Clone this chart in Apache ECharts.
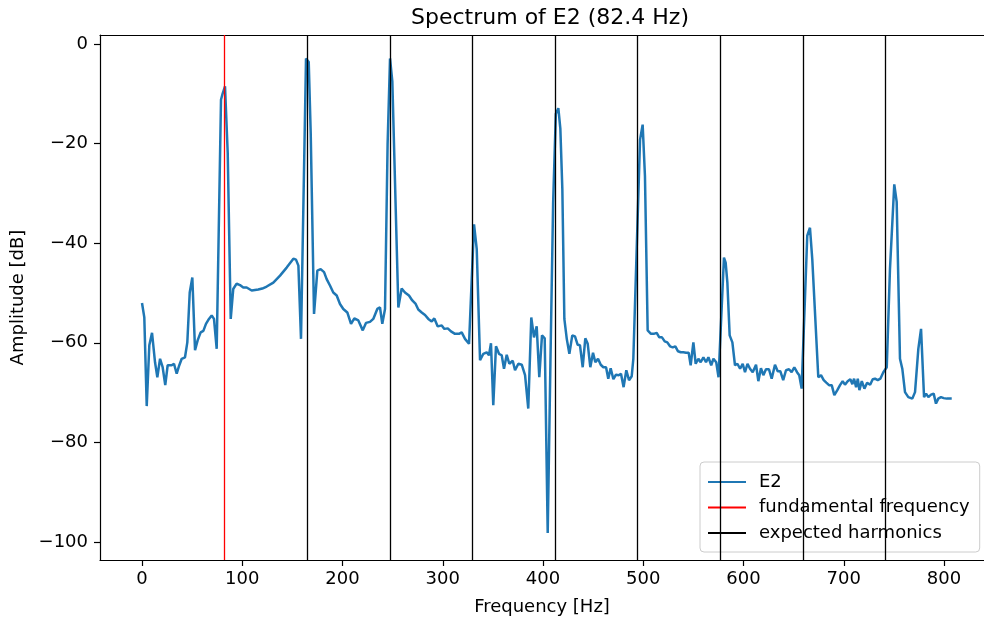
<!DOCTYPE html>
<html>
<head>
<meta charset="utf-8">
<script src="https://cdn.jsdelivr.net/npm/echarts@6/dist/echarts.min.js"></script>
<style>
html,body{margin:0;padding:0;background:#fff;}
#chart{width:984px;height:621px;}
</style>
</head>
<body>
<div id="chart"></div>
<script>
// ---- data ----
const freqs = [
0,2.3,4.7,7.3,10,13,15.3,18,20.6,23.2,25.6,29.6,31.9,34.6,37.2,39.6,42.9,45.2,47.6,50.2,
52.9,55.5,58.5,61.2,63.8,66.8,69.5,71.8,74.5,78.8,80.5,82.8,85.5,88.5,91,94.4,97.7,101,104.4,109.4,
116,120,124.4,131,137.7,144.3,151,153.6,156,158.6,163.6,166.3,168.3,171.6,174.9,178.2,181.6,184.2,187.5,190.8,
194.2,197.5,200.8,204.8,208.5,211.8,215.8,220.2,223.4,227.4,230.7,234.7,237.4,239.7,242.4,245,247.4,249.7,255.7,259,
262.3,266.3,269.6,273,275.6,279,282.3,285.6,289,291.6,295,299,301.6,305,308.2,312.2,316.2,318.9,322.2,326.2,
331.2,333.9,337.2,340.5,343.8,346.1,348.1,350.4,353.1,356.1,358.8,361.1,363.8,366.4,369.8,372.1,375.4,378.8,382.1,385.3,
388.3,391,393.7,396.3,399,401.7,404.7,407.4,410.1,412.8,415.3,417.3,419.3,421.3,423.7,426.3,429.2,431.9,434.6,436.9,
439.6,442.2,444.6,447.2,449.9,452.2,454.9,457.6,460.2,462.9,465.1,467.5,470.2,472.8,475.5,477.8,480.4,483.1,485.8,488.5,
490.1,496.8,499.4,501.7,504.4,507.7,510.4,513.4,516,518.7,521.4,524,526.7,529.4,532,534.7,537.4,540,542.7,545.3,
547.3,550,552.3,555,557.3,560,562.6,565,567.8,570,572.8,575.1,580.5,582.2,583.9,586.2,588.9,591.5,593.9,596.6,
599.2,601.5,604,606.5,609.2,612.5,614.8,617.4,619.8,622.4,625.4,628.1,631.4,634.1,636.7,639.6,642.4,645.4,648,650.7,
653.4,655.6,658,663.6,666.3,668.6,674.6,677.3,680,682.6,685.3,688,690.6,693.6,696.3,698.9,701.2,703.9,706.6,708.6,
710.3,712.3,714,715.6,718,720.6,723.3,726.3,728.9,731.2,733.9,736.5,739.5,742.9,746.1,750.4,752.8,756.1,758.4,761.1,
764.4,768.4,771.1,774.4,777.1,780.1,782.1,784.4,787.1,789.7,792,794.3,797,799.7,802.7,807.7
];
const amps = [
-52,-54.9,-72.7,-60.5,-58,-63.9,-66.9,-63.2,-64.9,-68.5,-64.5,-64.5,-64.2,-66.2,-64.5,-63.2,-62.9,-59.9,-49.9,-46.9,
-61.5,-59.5,-57.9,-57.6,-56.2,-55.2,-54.5,-55.2,-61.2,-11.2,-9.9,-8.5,-21.9,-55.2,-49.2,-48.1,-48.4,-48.9,-48.9,-49.5,
-49.3,-49.1,-48.7,-47.9,-46.5,-44.9,-43.1,-43.3,-44.5,-59.2,-2.9,-3.6,-18,-54.2,-45.5,-45.2,-45.8,-47.2,-48.5,-49.9,
-50.5,-52.2,-53.2,-53.9,-56.2,-55.1,-55.5,-57.5,-56,-55.8,-55.2,-53.2,-52.9,-56.2,-53.2,-20,-2.9,-7.5,-52.9,-49.1,
-49.9,-50.5,-51.5,-52.2,-53.3,-53.9,-54.4,-55.2,-55.7,-55.1,-56.7,-56.5,-57.2,-57.1,-57.7,-58.2,-58.2,-57.9,-59.2,-60.2,
-36.2,-41.2,-63.5,-62.2,-61.9,-62.5,-60.1,-72.5,-60.7,-62.2,-62.5,-65.2,-62.4,-64.2,-63.6,-65.5,-64.2,-64.4,-66.5,-73.2,
-54.9,-58.9,-56.7,-66.9,-58.5,-59.1,-98.2,-64,-32,-14,-12.9,-17,-29.2,-55.2,-59.2,-62.2,-58.5,-58.7,-60.4,-60.5,
-64.9,-59.1,-60.2,-64.9,-62,-63.9,-63.2,-64.4,-64.9,-64.9,-67.2,-65.1,-67.3,-66.4,-66.5,-66.2,-68.9,-65.5,-67.5,-66.7,
-63.2,-19.2,-16.2,-26.5,-57.5,-58.2,-58.2,-58,-58.9,-58.9,-59.7,-59.9,-60.7,-60.9,-60.7,-61.7,-61.9,-61.9,-62,-62,
-64.5,-59.9,-64.2,-63.2,-63.9,-62.9,-63.9,-62.9,-64.5,-63.2,-63.9,-66.9,-42.9,-43.9,-47.9,-58.5,-59.9,-64.5,-64.2,-65.2,
-64.2,-65.9,-64.2,-65.2,-65.9,-64.4,-67.7,-65.1,-66.5,-65.3,-65.3,-67.2,-64.4,-65.7,-65.7,-67.5,-65.5,-65.3,-65.9,-64.9,
-65.9,-66.5,-69.2,-38.5,-36.9,-43.2,-66.9,-66.5,-67.5,-68,-68.5,-68.5,-70.5,-69.5,-68.5,-67.7,-68.4,-67.7,-67.3,-68.3,
-67.2,-68.9,-67.2,-69.5,-67.7,-69.2,-68,-68.4,-67.3,-67.2,-67.5,-67.2,-65.9,-64.9,-45.2,-28.2,-31.7,-63.2,-65.2,-69.9,
-70.9,-71.2,-69.9,-61.2,-57.2,-70.9,-70.2,-70.9,-70.4,-70.2,-72.2,-71.2,-70.9,-71.1,-71.2,-71.2
];
const fundamental = 82.4;
const harmonics = [164.8, 247.2, 329.6, 412.0, 494.4, 576.8, 659.2, 741.6];
const xTicks = [0, 100, 200, 300, 400, 500, 600, 700, 800];
const yTicks = [-100, -80, -60, -40, -20, 0];
const seriesNames = ['E2', 'fundamental frequency', 'expected harmonics'];

const FONT = 'DejaVu Sans';
const X_MIN = -41.9, X_MAX = 839.9, Y_MIN = -103.6, Y_MAX = 1.8;
const chart = echarts.init(document.getElementById('chart'), null, {renderer: 'canvas'});
const points = freqs.map((f, i) => [f, amps[i]]);

chart.setOption({
  animation: false,
  backgroundColor: '#fff',
  textStyle: {fontFamily: FONT},
  title: {
    text: 'Spectrum of E2 (82.4 Hz)',
    left: 545, top: 2, textAlign: 'center',
    textStyle: {fontFamily: FONT, fontSize: 22, fontWeight: 'normal', color: '#000'}
  },
  grid: {left: 100, top: 35, right: 0, height: 527, show: false},
  legend: {
    orient: 'vertical', left: 700, top: 462,
    data: seriesNames,
    itemWidth: 38, itemHeight: 14, itemGap: 5.5,
    padding: [10, 10, 9, 7],
    borderColor: '#cccccc', borderWidth: 1, borderRadius: 4,
    backgroundColor: 'rgba(255,255,255,0.8)',
    itemStyle: {opacity: 0},
    textStyle: {fontFamily: FONT, fontSize: 18, color: '#000', lineHeight: 20, padding: [0, 0, 0, 8]}
  },
  xAxis: [{
    type: 'value', min: X_MIN, max: X_MAX, position: 'bottom',
    name: 'Frequency [Hz]', nameLocation: 'middle', nameGap: 38,
    nameTextStyle: {fontFamily: FONT, fontSize: 18, color: '#000'},
    axisLine: {show: true, onZero: false, lineStyle: {color: '#000', width: 1.2}},
    axisTick: {show: true, inside: false, length: 6, customValues: xTicks, lineStyle: {color: '#000', width: 1.2}},
    axisLabel: {customValues: xTicks, fontFamily: FONT, fontSize: 18, color: '#000', margin: 10},
    splitLine: {show: false}
  }, {
    type: 'value', min: X_MIN, max: X_MAX, position: 'top',
    axisLine: {show: true, onZero: false, lineStyle: {color: '#000', width: 1.2}},
    axisTick: {show: false}, axisLabel: {show: false}, splitLine: {show: false}
  }],
  yAxis: {
    type: 'value', min: Y_MIN, max: Y_MAX,
    name: 'Amplitude [dB]', nameLocation: 'middle', nameGap: 73, nameRotate: 90,
    nameTextStyle: {fontFamily: FONT, fontSize: 18, color: '#000'},
    axisLine: {show: true, onZero: false, lineStyle: {color: '#000', width: 1.2}},
    axisTick: {show: true, inside: false, length: 6, customValues: yTicks, lineStyle: {color: '#000', width: 1.2}},
    axisLabel: {customValues: yTicks, fontFamily: FONT, fontSize: 18, color: '#000', margin: 12,
      formatter: v => String(v).replace('-', '\u2212')},
    splitLine: {show: false}
  },
  series: [
    {
      name: 'E2', type: 'line', data: points, symbol: 'none', showSymbol: false,
      lineStyle: {color: '#1f77b4', width: 2.5}, itemStyle: {color: '#1f77b4'}, z: 2
    },
    {
      name: 'fundamental frequency', type: 'line', data: [], symbol: 'none',
      lineStyle: {color: '#ff0000', width: 1.3}, itemStyle: {color: '#ff0000'}, z: 3,
      markLine: {
        silent: true, symbol: ['none', 'none'], label: {show: false},
        lineStyle: {color: '#ff0000', width: 1.3, type: 'solid'},
        emphasis: {disabled: true},
        data: [{xAxis: fundamental}]
      }
    },
    {
      name: 'expected harmonics', type: 'line', data: [], symbol: 'none',
      lineStyle: {color: '#000000', width: 1.3}, itemStyle: {color: '#000000'}, z: 3,
      markLine: {
        silent: true, symbol: ['none', 'none'], label: {show: false},
        lineStyle: {color: '#000000', width: 1.3, type: 'solid'},
        emphasis: {disabled: true},
        data: harmonics.map(h => ({xAxis: h}))
      }
    }
  ]
});
</script>
</body>
</html>
